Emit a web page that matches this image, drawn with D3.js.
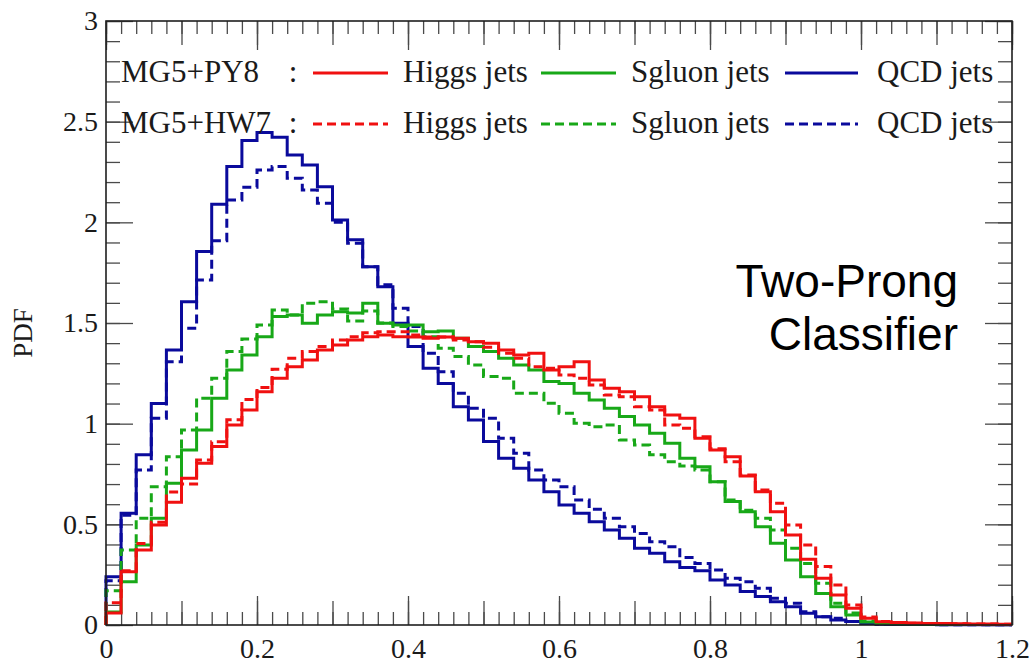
<!DOCTYPE html>
<html>
<head>
<meta charset="utf-8">
<script src="https://cdn.jsdelivr.net/npm/d3@7"></script>
<style>
  body { margin: 0; background: #fff; }
  svg { display: block; }
</style>
</head>
<body>
<svg id="chart" width="1031" height="665"></svg>
<script>
// Histogram binning: 60 bins of width 0.02 on [0, 1.2]
const binWidth = 0.02;
const xDomain = [0, 1.2];
const yDomain = [0, 3];

// Normalised classifier-output distributions (PDF per bin)
const higgsPY8 = [0.06,0.265,0.373,0.497,0.61,0.729,0.803,0.886,0.994,1.068,
  1.159,1.226,1.283,1.316,1.366,1.391,1.416,1.432,1.441,1.432,
  1.43,1.424,1.43,1.424,1.407,1.399,1.366,1.341,1.35,1.267,
  1.283,1.308,1.217,1.176,1.159,1.134,1.084,1.043,1.027,0.927,
  0.869,0.836,0.74,0.662,0.563,0.447,0.326,0.232,0.149,0.083,
  0.033,0.016,0.012,0.010,0.008,0.007,0.006,0.005,0.005,0.004];
const higgsHW7 = [0.11,0.27,0.405,0.51,0.66,0.70,0.82,0.91,1.02,1.12,
  1.18,1.27,1.325,1.358,1.383,1.416,1.432,1.452,1.457,1.457,
  1.44,1.43,1.43,1.416,1.407,1.38,1.35,1.325,1.283,1.275,
  1.242,1.226,1.192,1.143,1.134,1.084,1.068,0.994,0.977,0.935,
  0.875,0.811,0.745,0.671,0.605,0.497,0.397,0.29,0.199,0.099,
  0.04,0.018,0.012,0.009,0.008,0.007,0.006,0.005,0.005,0.004];
const sgluonPY8 = [0.065,0.215,0.397,0.53,0.704,0.869,0.969,1.126,1.267,1.341,
  1.432,1.532,1.54,1.499,1.54,1.556,1.55,1.598,1.499,1.49,
  1.49,1.457,1.46,1.424,1.383,1.358,1.325,1.292,1.267,1.209,
  1.2,1.151,1.118,1.076,1.035,0.994,0.952,0.903,0.828,0.786,
  0.712,0.613,0.563,0.488,0.406,0.323,0.24,0.157,0.091,0.05,
  0.015,0.008,0.006,0.005,0.004,0.003,0.003,0.002,0.002,0.002];
const sgluonHW7 = [0.17,0.373,0.53,0.687,0.836,0.969,1.126,1.226,1.358,1.42,
  1.49,1.565,1.54,1.598,1.606,1.57,1.51,1.56,1.5,1.482,
  1.46,1.432,1.374,1.333,1.292,1.234,1.226,1.151,1.151,1.101,
  1.052,1.002,0.985,0.994,0.919,0.894,0.845,0.811,0.79,0.77,
  0.712,0.621,0.57,0.53,0.472,0.381,0.306,0.207,0.108,0.06,
  0.02,0.008,0.006,0.005,0.004,0.003,0.003,0.002,0.002,0.002];
const qcdPY8 = [0.24,0.555,0.845,1.10,1.366,1.606,1.855,2.09,2.277,2.406,
  2.446,2.423,2.335,2.285,2.177,2.012,1.913,1.78,1.68,1.499,
  1.383,1.275,1.2,1.084,1.018,0.911,0.828,0.778,0.72,0.662,
  0.596,0.555,0.513,0.472,0.431,0.381,0.356,0.314,0.285,0.27,
  0.224,0.199,0.166,0.141,0.116,0.091,0.058,0.041,0.025,0.017,
  0.008,0.004,0.003,0.002,0.002,0.001,0.001,0.001,0.001,0.001];
const qcdHW7 = [0.22,0.545,0.77,1.027,1.308,1.474,1.714,1.908,2.111,2.174,
  2.26,2.277,2.219,2.161,2.095,2.0,1.896,1.78,1.69,1.573,
  1.482,1.35,1.258,1.151,1.076,1.027,0.927,0.853,0.77,0.72,
  0.687,0.621,0.575,0.53,0.488,0.455,0.414,0.389,0.335,0.306,
  0.273,0.232,0.215,0.182,0.133,0.108,0.066,0.041,0.033,0.017,
  0.008,0.004,0.003,0.002,0.002,0.001,0.001,0.001,0.001,0.001];

// Axis labels and legend text
const xTickValues = [0, 0.2, 0.4, 0.6, 0.8, 1, 1.2];
const xTickLabels = ["0", "0.2", "0.4", "0.6", "0.8", "1", "1.2"];
const yTickValues = [0, 0.5, 1, 1.5, 2, 2.5, 3];
const yTickLabels = ["0", "0.5", "1", "1.5", "2", "2.5", "3"];
const generatorNames = ["MG5+PY8", "MG5+HW7"];
const sampleNames = ["Higgs jets", "Sgluon jets", "QCD jets"];
const yTitle = "PDF";
const panelLabel = ["Two-Prong", "Classifier"];

const colors = { higgs: "#f01010", sgluon: "#18a818", qcd: "#0a0a9c" };
const DASH = "9,5";

const series = [
  { values: qcdPY8,    color: colors.qcd,    dashed: false },
  { values: qcdHW7,    color: colors.qcd,    dashed: true },
  { values: sgluonPY8, color: colors.sgluon, dashed: false },
  { values: sgluonHW7, color: colors.sgluon, dashed: true },
  { values: higgsPY8,  color: colors.higgs,  dashed: false },
  { values: higgsHW7,  color: colors.higgs,  dashed: true }
];

const plot = { left: 106, right: 1012, top: 21, bottom: 625 };
const x = d3.scaleLinear().domain(xDomain).range([plot.left, plot.right]);
const y = d3.scaleLinear().domain(yDomain).range([plot.bottom, plot.top]);

const svg = d3.select("#chart");
const serif = "'Liberation Serif', 'Times New Roman', serif";
const sans = "'Liberation Sans', Arial, sans-serif";

// ---- inward ticks on all four sides ----
const tickColor = "#4a4a4a";
function tickLevels(step, count) { return d3.range(0, count + 1).map(i => +(i * step).toFixed(4)); }
const xMinor = tickLevels(0.02, 60), xMid = tickLevels(0.1, 12), xMajor = tickLevels(0.2, 6);
const yMinor = tickLevels(0.1, 30), yMajor = tickLevels(0.5, 6);

function drawTicks(axisFn, scale, values, size, transform) {
  const g = svg.append("g").attr("transform", transform)
    .call(axisFn(scale).tickValues(values).tickSize(size).tickFormat(""));
  g.select(".domain").remove();
  g.selectAll("line").attr("stroke", tickColor).attr("stroke-width", 1.3);
}
[[xMinor, 13], [xMid, 24], [xMajor, 29]].forEach(([v, s]) => {
  drawTicks(d3.axisTop, x, v, s, `translate(0,${plot.bottom})`);
  drawTicks(d3.axisBottom, x, v, s, `translate(0,${plot.top})`);
});
[[yMinor, 14], [yMajor, 27]].forEach(([v, s]) => {
  drawTicks(d3.axisRight, y, v, s, `translate(${plot.left},0)`);
  drawTicks(d3.axisLeft, y, v, s, `translate(${plot.right},0)`);
});

// ---- tick labels ----
const xLab = svg.append("g").attr("transform", `translate(0,${plot.bottom})`)
  .call(d3.axisBottom(x).tickValues(xTickValues).tickSize(0).tickPadding(13)
    .tickFormat((d, i) => xTickLabels[i]));
xLab.select(".domain").remove();
xLab.selectAll("text").attr("font-family", serif).attr("font-size", 28).attr("fill", "#1a1a1a");

const yLab = svg.append("g").attr("transform", `translate(${plot.left},0)`)
  .call(d3.axisLeft(y).tickValues(yTickValues).tickSize(0).tickPadding(8)
    .tickFormat((d, i) => yTickLabels[i]));
yLab.select(".domain").remove();
yLab.selectAll("text").attr("font-family", serif).attr("font-size", 28).attr("fill", "#1a1a1a");

svg.append("text")
  .attr("transform", `translate(32,${(plot.top + plot.bottom) / 2 + 10}) rotate(-90)`)
  .attr("text-anchor", "middle")
  .attr("font-family", serif).attr("font-size", 27).attr("fill", "#1a1a1a")
  .text(yTitle);

// ---- histograms (step outlines) ----
const line = d3.line().x(d => x(d[0])).y(d => y(d[1])).curve(d3.curveStepAfter);
series.forEach(s => {
  const pts = [[0, 0]].concat(s.values.map((v, i) => [i * binWidth, v]));
  pts.push([s.values.length * binWidth, s.values[s.values.length - 1]]);
  svg.append("path")
    .attr("d", line(pts))
    .attr("fill", "none")
    .attr("stroke", s.color)
    .attr("stroke-width", 3)
    .attr("stroke-linejoin", "miter")
    .attr("stroke-dasharray", s.dashed ? DASH : null);
});

// ---- frame ----
svg.append("rect")
  .attr("x", plot.left).attr("y", plot.top)
  .attr("width", plot.right - plot.left).attr("height", plot.bottom - plot.top)
  .attr("fill", "none").attr("stroke", "#1e1e1e").attr("stroke-width", 1.6);

// ---- legend ----
const legendRowY = [73, 124];
const sampleColors = [colors.higgs, colors.sgluon, colors.qcd];
const lineX = [[313, 388], [541, 616], [785, 858]];
const textX = [403, 631, 877];
generatorNames.forEach((name, r) => {
  const yRow = legendRowY[r];
  const row = svg.append("g");
  row.append("text").attr("x", 121).attr("y", yRow + 9)
    .attr("font-family", serif).attr("font-size", 31).attr("fill", "#1a1a1a").text(name);
  row.append("text").attr("x", 293).attr("y", yRow + 9).attr("text-anchor", "middle")
    .attr("font-family", serif).attr("font-size", 31).attr("fill", "#1a1a1a").text(":");
  sampleNames.forEach((lab, k) => {
    row.append("line")
      .attr("x1", lineX[k][0]).attr("x2", lineX[k][1])
      .attr("y1", yRow).attr("y2", yRow)
      .attr("stroke", sampleColors[k]).attr("stroke-width", 3)
      .attr("stroke-dasharray", r === 1 ? DASH : null);
    row.append("text").attr("x", textX[k]).attr("y", yRow + 9)
      .attr("font-family", serif).attr("font-size", 31).attr("fill", "#1a1a1a").text(lab);
  });
});

// ---- panel label ----
const pl = svg.append("text")
  .attr("text-anchor", "end")
  .attr("font-family", sans).attr("font-size", 46).attr("fill", "#000");
pl.append("tspan").attr("x", 958).attr("y", 297).text(panelLabel[0]);
pl.append("tspan").attr("x", 958).attr("y", 350).text(panelLabel[1]);
</script>
</body>
</html>
